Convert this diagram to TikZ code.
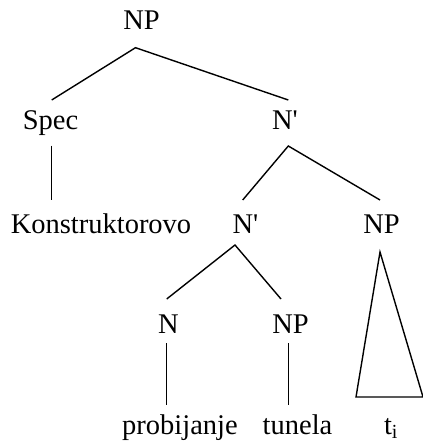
\documentclass[tikz,border=0pt]{standalone}
\usepackage{fontspec}
\setmainfont{Liberation Serif}
\begin{document}
\begin{tikzpicture}[x=1pt,y=-1pt,
  lab/.style={anchor=base,inner sep=0pt,font=\fontsize{28.5}{34}\selectfont},
  edge/.style={line width=1.4pt}]
\useasboundingbox (0,0) rectangle (422,443);
\node[lab] (np1) at (141.5,30) {NP};
\node[lab] (spec) at (50.5,130) {Spec};
\node[lab] (nb1) at (285,130) {N\textquotesingle};
\node[lab] (konst) at (101,233) {Konstruktorovo};
\node[lab] (nb2) at (245.5,233) {N\textquotesingle};
\node[lab] (np3) at (381.5,233) {NP};
\node[lab] (n) at (168.5,333) {N};
\node[lab] (np4) at (290.5,333) {NP};
\node[lab] (prob) at (180,434) {probijanje};
\node[lab] (tun) at (297.5,434) {tunela};
\node[lab] (ti) at (391,434) {t\textsubscript{i}};
\draw[edge] ([shift={(1.2,-30)}]spec.base) -- ([shift={(-6,17.7)}]np1.base) -- ([shift={(3.3,-30)}]nb1.base);
\draw[edge] ([shift={(1.2,15.7)}]spec.base) -- ([shift={(-49.3,-33)}]konst.base);
\draw[edge] ([shift={(-2.8,-33)}]nb2.base) -- ([shift={(3.3,16)}]nb1.base) -- ([shift={(-1.5,-33)}]np3.base);
\draw[edge] ([shift={(-1.8,-34)}]n.base) -- ([shift={(-10.5,12)}]nb2.base) -- ([shift={(-9.5,-34)}]np4.base);
\draw[edge] ([shift={(-1.8,10.3)}]n.base) -- ([shift={(-13.3,-29)}]prob.base);
\draw[edge] ([shift={(-2.2,10)}]np4.base) -- ([shift={(-9.2,-29)}]tun.base);
\draw[edge] ([shift={(-1.5,19)}]np3.base) -- ([shift={(-35,-37)}]ti.base) -- ([shift={(32,-37)}]ti.base) -- cycle;
\end{tikzpicture}
\end{document}
